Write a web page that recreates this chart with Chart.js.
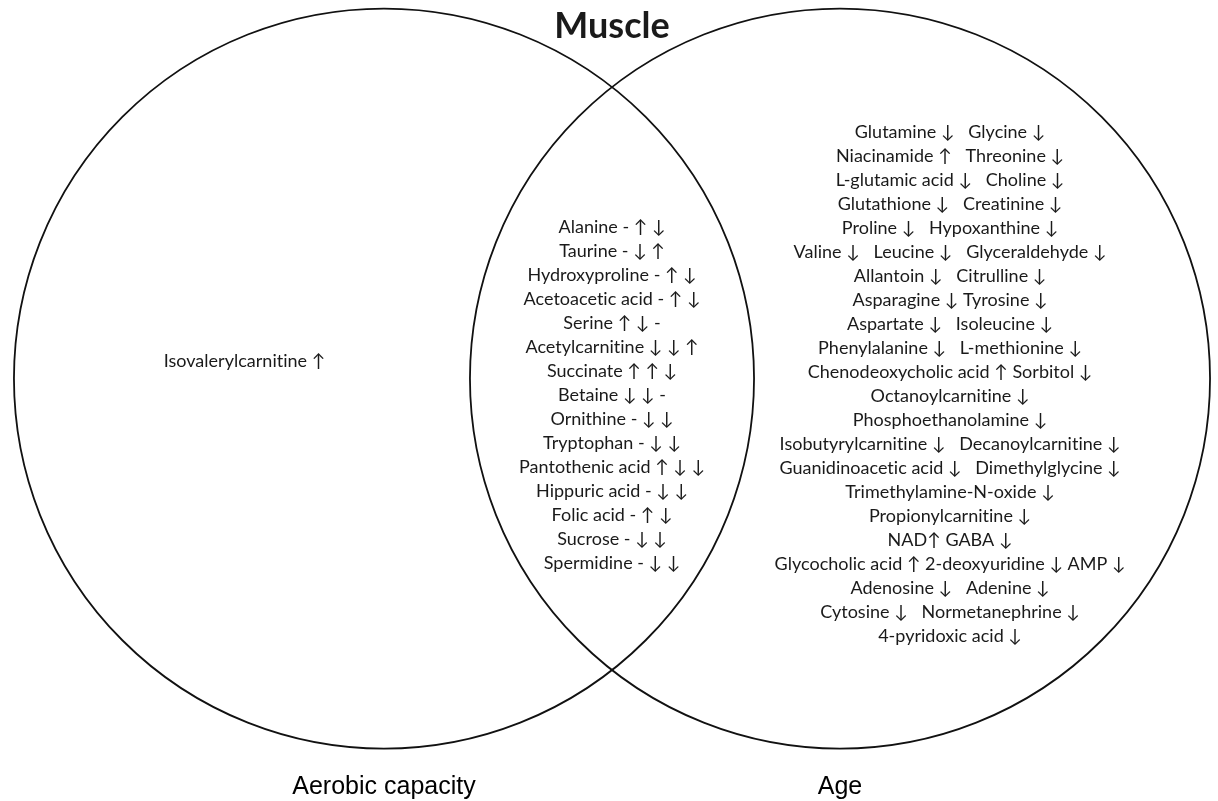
<!DOCTYPE html>
<html>
<head>
<meta charset="utf-8">
<script src="https://cdn.jsdelivr.net/npm/chart.js@4"></script>
<style>
  html, body { margin: 0; padding: 0; background: #ffffff; }
  #wrap { width: 1218px; height: 801px; position: relative; }
</style>
</head>
<body>
<div id="wrap"><canvas id="venn"></canvas></div>
<script>
// ---------- data ----------
const chartTitle = 'Muscle';
const setNames = ['Aerobic capacity', 'Age'];
const setCenterX = [-1, 1];
const setCenterY = [0, 0];
const setRadius = [1.623, 1.623];

const onlyAerobic = ['Isovalerylcarnitine ↑'];
const shared = [
  'Alanine - ↑ ↓',
  'Taurine - ↓ ↑',
  'Hydroxyproline - ↑ ↓',
  'Acetoacetic acid - ↑ ↓',
  'Serine ↑ ↓ -',
  'Acetylcarnitine ↓ ↓ ↑',
  'Succinate ↑ ↑ ↓',
  'Betaine ↓ ↓ -',
  'Ornithine - ↓ ↓',
  'Tryptophan - ↓ ↓',
  'Pantothenic acid ↑ ↓ ↓',
  'Hippuric acid - ↓ ↓',
  'Folic acid - ↑ ↓',
  'Sucrose - ↓ ↓',
  'Spermidine - ↓ ↓'
];
const onlyAge = [
  'Glutamine ↓   Glycine ↓',
  'Niacinamide ↑   Threonine ↓',
  'L-glutamic acid ↓   Choline ↓',
  'Glutathione ↓   Creatinine ↓',
  'Proline ↓   Hypoxanthine ↓',
  'Valine ↓   Leucine ↓   Glyceraldehyde ↓',
  'Allantoin ↓   Citrulline ↓',
  'Asparagine ↓ Tyrosine ↓',
  'Aspartate ↓   Isoleucine ↓',
  'Phenylalanine ↓   L-methionine ↓',
  'Chenodeoxycholic acid ↑ Sorbitol ↓',
  'Octanoylcarnitine ↓',
  'Phosphoethanolamine ↓',
  'Isobutyrylcarnitine ↓   Decanoylcarnitine ↓',
  'Guanidinoacetic acid ↓   Dimethylglycine ↓',
  'Trimethylamine-N-oxide ↓',
  'Propionylcarnitine ↓',
  'NAD↑ GABA ↓',
  'Glycocholic acid ↑ 2-deoxyuridine ↓ AMP ↓',
  'Adenosine ↓   Adenine ↓',
  'Cytosine ↓   Normetanephrine ↓',
  '4-pyridoxic acid ↓'
];
const regions = [onlyAerobic, shared, onlyAge];
const regionX = [-1.612, 0, 1.4825];
const regionY = [0.052, -0.100, -0.048];
const titlePos = [0, 1.494];
const setNameY = -1.822;

// ---------- text plugin ----------
const vennText = {
  id: 'vennText',
  afterDatasetsDraw(chart, args, opts) {
    const { ctx, scales: { x, y } } = chart;
    ctx.save();
    ctx.textAlign = 'center';
    ctx.textBaseline = 'alphabetic';
    if ('letterSpacing' in ctx) ctx.letterSpacing = opts.letterSpacing;
    ctx.fillStyle = opts.color;

    ctx.font = opts.titleFont;
    ctx.fillText(chartTitle, x.getPixelForValue(titlePos[0]), y.getPixelForValue(titlePos[1]));

    ctx.fillStyle = opts.nameColor;
    ctx.font = opts.nameFont;
    setNames.forEach((n, i) => {
      ctx.fillText(n, x.getPixelForValue(setCenterX[i]), y.getPixelForValue(setNameY));
    });

    ctx.fillStyle = opts.color;
    ctx.font = opts.bodyFont;
    regions.forEach((lines, k) => {
      const cx = x.getPixelForValue(regionX[k]);
      const cy = y.getPixelForValue(regionY[k]);
      const top = cy - (lines.length - 1) * opts.lineHeight / 2;
      lines.forEach((t, j) => ctx.fillText(t, cx, top + j * opts.lineHeight));
    });
    ctx.restore();
  }
};

const chart = new Chart(document.getElementById('venn'), {
  type: 'bubble',
  data: {
    datasets: [{
      data: setCenterX.map((cx, i) => ({ x: cx, y: setCenterY[i], r: 1 })),
      backgroundColor: 'rgba(0,0,0,0)',
      borderColor: '#111111',
      borderWidth: 1.8,
      clip: false
    }]
  },
  options: {
    responsive: true,
    maintainAspectRatio: false,
    devicePixelRatio: 1,
    animation: false,
    events: [],
    layout: { padding: 0, autoPadding: false },
    scales: {
      x: { type: 'linear', min: -2.6842, max: 2.6579, display: false },
      y: { type: 'linear', min: -1.8526, max: 1.6605, display: false }
    },
    plugins: {
      legend: { display: false },
      tooltip: { enabled: false },
      vennText: {
        color: '#1a1a1a',
        nameColor: '#000000',
        letterSpacing: '0.01px',
        titleFont: 'bold 36px Lato, "DejaVu Sans", sans-serif',
        nameFont: '25px "Liberation Sans", Arial, sans-serif',
        bodyFont: '18px Lato, "DejaVu Sans", sans-serif',
        lineHeight: 24
      }
    }
  },
  plugins: [vennText]
});

// bubble radius is in pixels: convert each set's radius (data units) through the x scale
const xs = chart.scales.x;
chart.data.datasets[0].data = setCenterX.map((cx, i) => ({
  x: cx,
  y: setCenterY[i],
  r: xs.getPixelForValue(setRadius[i]) - xs.getPixelForValue(0)
}));
chart.update();
</script>
</body>
</html>
